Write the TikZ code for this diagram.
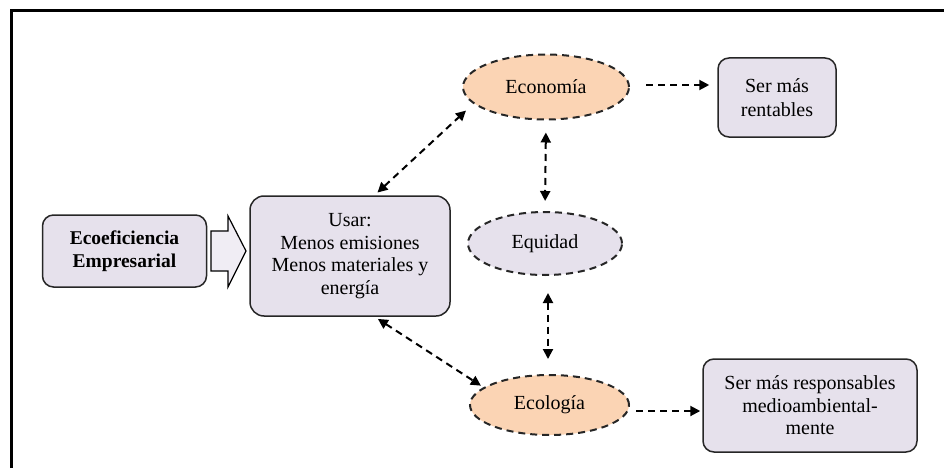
\documentclass[tikz,border=0pt]{standalone}
\usepackage{fontspec}
\setmainfont{Liberation Serif}
\usetikzlibrary{arrows.meta,shapes.geometric,calc}
\definecolor{boxfill}{HTML}{E6E1EC}
\definecolor{ellfill}{HTML}{FBD4B4}
\tikzset{
  box/.style={draw=black!85, line width=1.5pt, fill=boxfill, rounded corners=11pt, align=center,
    font=\fontsize{20}{22.5}\selectfont, inner sep=2pt},
  ell/.style={ellipse, draw=black!85, line width=2pt, dash pattern=on 7pt off 5pt, align=center,
    font=\fontsize{20}{22.5}\selectfont, inner sep=0pt},
  darr/.style={line width=2pt, dash pattern=on 7pt off 5pt, -{Triangle[length=10pt,width=10pt]}},
  dbarr/.style={line width=2pt, dash pattern=on 7pt off 5pt, {Triangle[length=10pt,width=10pt]}-{Triangle[length=10pt,width=10pt]}},
}
\begin{document}
\begin{tikzpicture}[x=1pt,y=-1pt]
\useasboundingbox (0,0) rectangle (944,468);
\draw[line width=3pt] (11,468) -- (11,11) -- (944,11);

\node[box, font=\fontsize{19.5}{23}\selectfont\bfseries, minimum width=164pt, minimum height=72pt] (ecoef) at (124.5,251) {Ecoeficiencia\\Empresarial};
\node[box, rounded corners=14pt, minimum width=200pt, minimum height=120pt] (usar) at (350,256) {Usar:\\Menos emisiones\\Menos materiales y\\energía};
\node[ell, fill=ellfill, minimum width=166pt, minimum height=65pt] (eco) at (546,87) {Economía};
\node[ell, fill=boxfill, minimum width=154pt, minimum height=63pt] (equ) at (545,243.5) {Equidad};
\node[ell, fill=ellfill, minimum width=159pt, minimum height=60pt] (ecol) at (549.5,405) {Ecología};
\node[box, font=\fontsize{20}{24}\selectfont, minimum width=118pt, minimum height=79pt] (rent) at (777,97.5) {Ser más\\rentables};
\node[box, minimum width=214pt, minimum height=93pt] (resp) at (810,405.5) {Ser más responsables\\medioambiental-\\mente};

% hollow arrow
\draw[line width=1.2pt, fill=boxfill!60] (211,231) -- (228,231) -- (228,216) -- (246,251) -- (228,287) -- (228,271) -- (211,271) -- cycle;

\draw[dbarr, shorten <=4pt, shorten >=10pt] (usar.68) -- (eco.193);
\draw[dbarr, shorten <=4pt, shorten >=3pt] (usar.292) -- (ecol.165);
\draw[dbarr, shorten <=12pt, shorten >=10pt] (eco.south) -- (equ.north);
\draw[dbarr, shorten <=17pt, shorten >=15pt] ($(equ.south)+(3,0)$) -- ($(ecol.north)+(-1.5,0)$);
\draw[darr, shorten <=16pt, shorten >=8pt] ($(eco.east)+(0,-2)$) -- ($(eco.east -| rent.west)+(0,-2)$);
\draw[darr, shorten <=6pt, shorten >=2pt] ($(ecol.east)+(0,6)$) -- ($(ecol.east -| resp.west)+(0,6)$);
\end{tikzpicture}
\end{document}
